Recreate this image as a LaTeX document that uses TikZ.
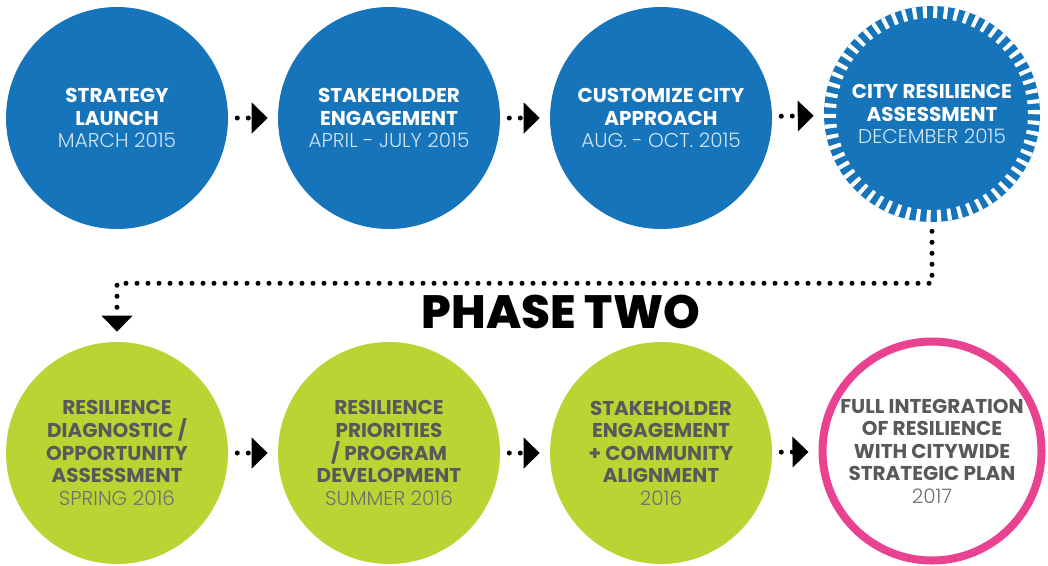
\documentclass[tikz,border=0pt]{standalone}
\usepackage{fontspec}
\setmainfont{Poppins}
\newfontfamily\lightfont{Poppins Light}
\newfontfamily\heavyfont{Poppins ExtraBold}
\usetikzlibrary{arrows.meta}
\definecolor{stageblue}{RGB}{21,116,186}
\definecolor{stagegreen}{RGB}{187,212,51}
\definecolor{stagepink}{RGB}{233,66,144}
\definecolor{stagegray}{RGB}{88,89,91}
\definecolor{dategray}{RGB}{110,111,113}
\definecolor{dateblue}{RGB}{208,228,243}
\newcommand{\bluedate}{\lightfont\mdseries\color{dateblue}}
\newcommand{\graydate}{\lightfont\mdseries\color{dategray}}

\begin{document}
\begin{tikzpicture}[x=0.75pt,y=-0.75pt,
  stagecirc/.style={circle,minimum size=166.5pt,inner sep=0pt,align=center,font=\fontsize{15}{16.9}\selectfont\bfseries},
  bluestage/.style={stagecirc,fill=stageblue,text=white},
  greenstage/.style={stagecirc,fill=stagegreen,text=stagegray},
  flow/.style={line width=3.75pt,line cap=round,dash pattern=on 0pt off 8.25pt,shorten <=6.75pt,shorten >=7.5pt,-{Triangle[length=12pt,width=22.5pt]}}]
\useasboundingbox (0,0) rectangle (1048,565);
\node[bluestage] (launch) at (117,118) {STRATEGY\\LAUNCH\\{\bluedate MARCH 2015}};
\node[bluestage] (engage) at (389,118) {STAKEHOLDER\\ENGAGEMENT\\{\bluedate APRIL - JULY 2015}};
\node[bluestage] (custom) at (661,118) {CUSTOMIZE CITY\\APPROACH\\{\bluedate AUG. - OCT. 2015}};
\node[bluestage,minimum size=162pt] (assess) at (932,114) {CITY RESILIENCE\\ASSESSMENT\\{\bluedate DECEMBER 2015}};
\draw[white,line width=9pt,dash pattern=on 3pt off 4.75pt] (assess.center) circle (76.5pt);
\node[greenstage] (diag) at (117,453) {RESILIENCE\\DIAGNOSTIC /\\OPPORTUNITY\\ASSESSMENT\\{\graydate SPRING 2016}};
\node[greenstage] (prio) at (389,453) {RESILIENCE\\PRIORITIES\\/ PROGRAM\\DEVELOPMENT\\{\graydate SUMMER 2016}};
\node[greenstage] (commun) at (661,453) {STAKEHOLDER\\ENGAGEMENT\\+ COMMUNITY\\ALIGNMENT\\{\graydate 2016}};
\node[stagecirc,minimum size=164.25pt,draw=stagepink,line width=6pt,text=stagegray] (plan) at (932,451) {FULL INTEGRATION\\OF RESILIENCE\\WITH CITYWIDE\\STRATEGIC PLAN\\{\graydate 2017}};
\node[font=\heavyfont\fontsize{35}{40}\selectfont] (phase) at (561,312) {PHASE TWO};
\draw[flow] (launch) -- (engage);
\draw[flow] (engage) -- (custom);
\draw[flow] (custom) -- (assess);
\draw[flow] (assess.south) -- ++(0,61) -| (diag.north);
\draw[flow] (diag) -- (prio);
\draw[flow] (prio) -- (commun);
\draw[flow] (commun) -- (plan);
\end{tikzpicture}
\end{document}
